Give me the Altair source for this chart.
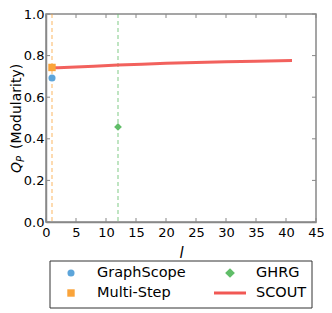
import altair as alt
import pandas as pd

# ---- data ----
methods = ["GraphScope", "Multi-Step", "GHRG", "SCOUT"]
colors = ["#5DA5DA", "#FAA43A", "#60BD68", "#F15854"]
shapes = ["circle", "square", "diamond", "stroke"]

point_methods = ["GraphScope", "Multi-Step", "GHRG"]
point_l = [1, 1, 12]
point_q = [0.692, 0.743, 0.457]

scout_l = [1, 2, 3, 5, 8, 12, 16, 20, 25, 30, 35, 41]
scout_q = [0.741, 0.742, 0.743, 0.745, 0.749, 0.755, 0.759, 0.763, 0.767, 0.771, 0.773, 0.776]

vline_l = [1, 12]
vline_method = ["Multi-Step", "GHRG"]

x_ticks = [0, 5, 10, 15, 20, 25, 30, 35, 40, 45]
y_ticks = [0.0, 0.2, 0.4, 0.6, 0.8, 1.0]

W, H = 270, 208
FONT = "DejaVu Sans"
FRAME = "#888888"

points_df = pd.DataFrame({"method": point_methods, "l": point_l, "q": point_q})
scout_df = pd.DataFrame({"l": scout_l, "q": scout_q, "method": "SCOUT"})
vline_df = pd.DataFrame({"l": vline_l, "method": vline_method})
xt_df = pd.DataFrame({"t": x_ticks})
yt_df = pd.DataFrame({"t": y_ticks})
one = pd.DataFrame({"a": [0]})

xscale = alt.Scale(domain=[0, 45], nice=False, zero=False)
yscale = alt.Scale(domain=[0, 1], nice=False)
cscale = alt.Scale(domain=methods, range=colors)

xaxis = alt.Axis(values=x_ticks, title="l", titleFontStyle="italic", titleFontSize=15,
                 titleFontWeight="normal", titlePadding=6, labelPadding=4, tickSize=0,
                 labelFontSize=13, grid=False, domainColor=FRAME, domainWidth=1.5,
                 labelColor="black", titleColor="black", labelFlush=False,
                 labelOverlap=False)
yaxis = alt.Axis(values=y_ticks, title=None, format=".1f", labelPadding=2, tickSize=0,
                 labelFontSize=13, grid=False, domainColor=FRAME, domainWidth=1.5,
                 labelColor="black", labelOverlap=False)

base_axes = alt.Chart(xt_df).mark_rule(opacity=0).encode(
    x=alt.X("t:Q", scale=xscale, axis=xaxis),
    y=alt.Y("t:Q", scale=yscale, axis=yaxis),
)

vlines = alt.Chart(vline_df).mark_rule(strokeDash=[4, 3], strokeWidth=1, opacity=0.8).encode(
    x=alt.X("l:Q", scale=xscale, axis=xaxis),
    color=alt.Color("method:N", scale=cscale, legend=None),
)

line = alt.Chart(scout_df).mark_line(strokeWidth=3, opacity=0.95).encode(
    x=alt.X("l:Q", scale=xscale, axis=xaxis),
    y=alt.Y("q:Q", scale=yscale, axis=yaxis),
    color=alt.Color("method:N", scale=cscale, legend=None),
)

pts = alt.Chart(points_df).mark_point(filled=True, opacity=1).encode(
    x=alt.X("l:Q", scale=xscale, axis=xaxis),
    y=alt.Y("q:Q", scale=yscale, axis=yaxis),
    color=alt.Color("method:N", scale=cscale, legend=None),
    shape=alt.Shape("method:N", scale=alt.Scale(domain=methods, range=shapes), legend=None),
    size=alt.Size("method:N", scale=alt.Scale(domain=point_methods, range=[50, 60, 95]), legend=None),
)

# inward ticks
tick_style = dict(color=FRAME, strokeWidth=1)
tb = alt.Chart(xt_df).mark_rule(**tick_style).encode(
    x=alt.X("t:Q", scale=xscale, axis=xaxis), y=alt.value(H), y2=alt.value(H - 4))
tt = alt.Chart(xt_df).mark_rule(**tick_style).encode(
    x=alt.X("t:Q", scale=xscale, axis=xaxis), y=alt.value(0), y2=alt.value(4))
tl = alt.Chart(yt_df).mark_rule(**tick_style).encode(
    y=alt.Y("t:Q", scale=yscale, axis=yaxis), x=alt.value(0), x2=alt.value(4))
tr = alt.Chart(yt_df).mark_rule(**tick_style).encode(
    y=alt.Y("t:Q", scale=yscale, axis=yaxis), x=alt.value(W), x2=alt.value(W - 4))

# y title: Q_P (Modularity)
yt_q = alt.Chart(one).mark_text(text="Q", font=FONT, fontSize=14, fontStyle="italic",
                                angle=270, align="left", baseline="middle", color="black").encode(
    x=alt.value(-29), y=alt.value(159))
yt_p = alt.Chart(one).mark_text(text="P", font=FONT, fontSize=10, fontStyle="italic",
                                angle=270, align="left", baseline="middle", color="black").encode(
    x=alt.value(-25), y=alt.value(148))
yt_m = alt.Chart(one).mark_text(text="(Modularity)", font=FONT, fontSize=14,
                                angle=270, align="left", baseline="middle", color="black").encode(
    x=alt.value(-29), y=alt.value(135))

# legend (drawn below the plot)
legend_layers = [
    alt.Chart(one).mark_rect(fill=None, stroke="#333333", strokeWidth=1).encode(
        x=alt.value(4), x2=alt.value(266), y=alt.value(247), y2=alt.value(294))
]
leg_pos = {"GraphScope": (25, 259), "Multi-Step": (25, 279), "GHRG": (184, 259), "SCOUT": (184, 279)}
leg_size = {"circle": 50, "square": 55, "diamond": 95}
for m, c, s in zip(methods, colors, shapes):
    lx, ly = leg_pos[m]
    if s == "stroke":
        legend_layers.append(alt.Chart(one).mark_rule(color=c, strokeWidth=3).encode(
            x=alt.value(lx - 16), x2=alt.value(lx + 16), y=alt.value(ly)))
    else:
        legend_layers.append(alt.Chart(one).mark_point(filled=True, shape=s, size=leg_size[s],
                                                       color=c, opacity=1).encode(
            x=alt.value(lx), y=alt.value(ly)))
    legend_layers.append(alt.Chart(one).mark_text(text=m, font=FONT, fontSize=14.5, align="left",
                                                  baseline="middle", color="black").encode(
        x=alt.value(lx + 26), y=alt.value(ly)))

chart = alt.layer(
    base_axes, vlines, line, pts, tb, tt, tl, tr, yt_q, yt_p, yt_m, *legend_layers
).properties(
    width=W, height=H,
    autosize=alt.AutoSizeParams(type="none"),
    padding={"left": 38, "top": 6, "right": 8, "bottom": 90},
).configure_view(
    stroke=FRAME, strokeWidth=1.5
).configure_axis(
    labelFont=FONT, titleFont=FONT, labelOverlap=False
).configure_text(font=FONT)

chart.save("out.html", embed_options={"renderer": "svg", "actions": False})
